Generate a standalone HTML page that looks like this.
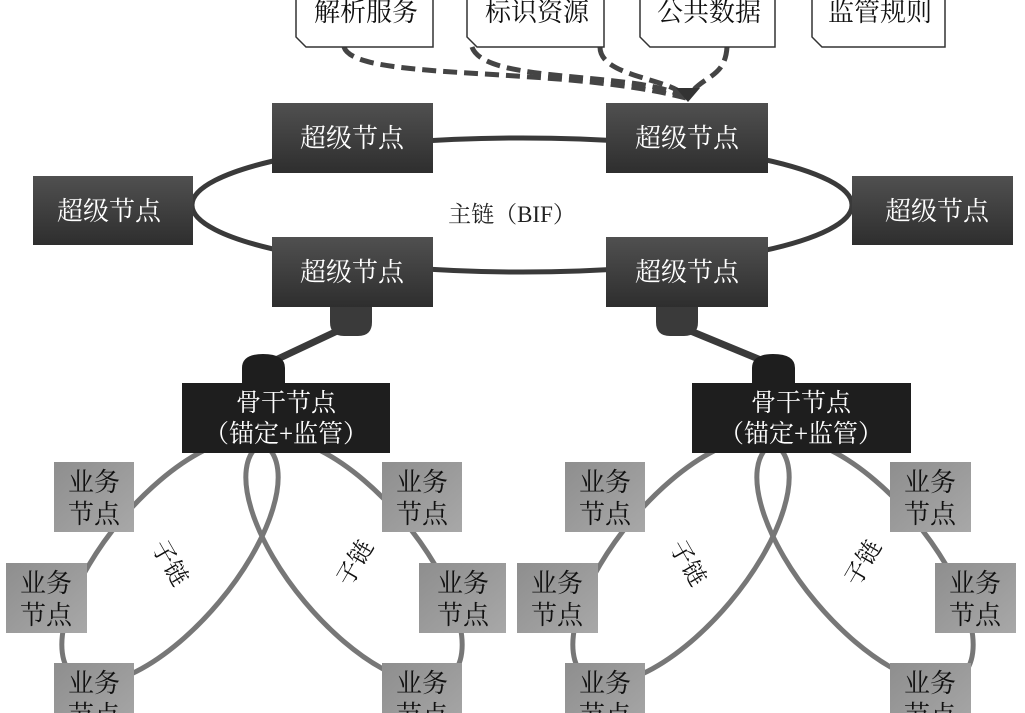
<!DOCTYPE html>
<html><head><meta charset="utf-8"><style>
body{margin:0;background:#fff;}
svg{display:block;}
text{font-family:"Liberation Serif","Noto Serif CJK SC",serif;}
</style></head><body>
<svg width="1025" height="713" viewBox="0 0 1025 713" xmlns="http://www.w3.org/2000/svg">
<defs>
<linearGradient id="dk" x1="0" y1="0" x2="0" y2="1"><stop offset="0" stop-color="#505050"/><stop offset="1" stop-color="#2e2e2e"/></linearGradient>
<linearGradient id="gr" x1="0" y1="0" x2="1" y2="1"><stop offset="0" stop-color="#8e8e8e"/><stop offset="1" stop-color="#a8a8a8"/></linearGradient>
</defs>
<!-- dashed arrows -->
<g fill="none" stroke="#444" stroke-width="5" stroke-dasharray="14,7">
<path d="M344,47 C355,82 560,65 686,98"/>
<path d="M472,47 C485,85 640,70 686,98"/>
<path d="M600,47 C600,78 675,78 686,98"/>
<path d="M727,47 C725,80 700,75 688,98"/>
</g>
<path d="M676,88 L688,102 L700,88 Z" fill="#333"/>
<!-- top boxes -->
<g fill="#fff" stroke="#333" stroke-width="1.5">
<path d="M296,-5 H433 V47 H306 L296,37 Z"/>
<path d="M467,-5 H604 V47 H477 L467,37 Z"/>
<path d="M640,-5 H775 V47 H650 L640,37 Z"/>
<path d="M812,-5 H945 V47 H822 L812,37 Z"/>
</g>
<g font-size="26" fill="#111" text-anchor="middle">
<text x="366" y="21">解析服务</text>
<text x="537" y="21">标识资源</text>
<text x="709" y="21">公共数据</text>
<text x="880" y="21">监管规则</text>
</g>
<!-- main ring -->
<ellipse cx="522" cy="205" rx="330" ry="67" fill="none" stroke="#3a3a3a" stroke-width="5"/>
<text x="512" y="222" font-size="23" text-anchor="middle" fill="#222">主链（BIF）</text>
<!-- connectors -->
<g stroke="#3a3a3a" stroke-width="7" fill="none"><line x1="350" y1="325" x2="265" y2="365"/><line x1="676" y1="325" x2="773" y2="365"/></g>
<g fill="#3a3a3a">
<path d="M330,300 H372 V322 Q372,336 358,336 H344 Q330,336 330,322 Z"/>
<path d="M656,300 H698 V322 Q698,336 684,336 H670 Q656,336 656,322 Z"/>
</g>
<g fill="#1e1e1e">
<path d="M242,385 V368 Q242,354 263,354 Q285,354 285,368 V385 Z"/>
<path d="M752,385 V368 Q752,354 773,354 Q795,354 795,368 V385 Z"/>
</g>
<!-- super nodes -->
<g fill="url(#dk)">
<rect x="272" y="103" width="161" height="70"/>
<rect x="606" y="103" width="162" height="70"/>
<rect x="33" y="176" width="160" height="69"/>
<rect x="852" y="176" width="161" height="69"/>
<rect x="272" y="237" width="161" height="70"/>
<rect x="606" y="237" width="162" height="70"/>
</g>
<g font-size="26" fill="#fff" text-anchor="middle">
<text x="352" y="147">超级节点</text>
<text x="687" y="147">超级节点</text>
<text x="109" y="220">超级节点</text>
<text x="937" y="220">超级节点</text>
<text x="352" y="281">超级节点</text>
<text x="687" y="281">超级节点</text>
</g>
<!-- sub chains -->
<g fill="none" stroke="#777" stroke-width="5">
<ellipse cx="170" cy="561" rx="150" ry="64" transform="rotate(-50 170 561)"/>
<ellipse cx="354" cy="561" rx="150" ry="64" transform="rotate(50 354 561)"/>
<ellipse cx="681" cy="561" rx="150" ry="64" transform="rotate(-50 681 561)"/>
<ellipse cx="865" cy="561" rx="150" ry="64" transform="rotate(50 865 561)"/>
</g>
<!-- backbone nodes -->
<rect x="182" y="383" width="208" height="70" fill="#1e1e1e"/>
<rect x="692" y="383" width="219" height="70" fill="#1e1e1e"/>
<g font-size="25" fill="#fff" text-anchor="middle">
<text x="286" y="411">骨干节点</text><text x="286" y="442">（锚定+监管）</text>
<text x="801" y="411">骨干节点</text><text x="801" y="442">（锚定+监管）</text>
</g>
<!-- business nodes -->
<g fill="url(#gr)">
<rect x="54" y="462" width="80" height="70"/><rect x="6" y="563" width="81" height="70"/><rect x="54" y="663" width="80" height="70"/>
<rect x="382" y="462" width="80" height="70"/><rect x="419" y="563" width="87" height="70"/><rect x="382" y="663" width="80" height="70"/>
<rect x="565" y="462" width="80" height="70"/><rect x="517" y="563" width="81" height="70"/><rect x="565" y="663" width="80" height="70"/>
<rect x="890" y="462" width="81" height="70"/><rect x="935" y="563" width="81" height="70"/><rect x="890" y="663" width="81" height="70"/>
</g>
<g font-size="26" fill="#111" text-anchor="middle">
<text x="94" y="491">业务</text><text x="94" y="523">节点</text>
<text x="46" y="592">业务</text><text x="46" y="624">节点</text>
<text x="94" y="692">业务</text><text x="94" y="724">节点</text>
<text x="422" y="491">业务</text><text x="422" y="523">节点</text>
<text x="463" y="592">业务</text><text x="463" y="624">节点</text>
<text x="422" y="692">业务</text><text x="422" y="724">节点</text>
<text x="605" y="491">业务</text><text x="605" y="523">节点</text>
<text x="557" y="592">业务</text><text x="557" y="624">节点</text>
<text x="605" y="692">业务</text><text x="605" y="724">节点</text>
<text x="930" y="491">业务</text><text x="930" y="523">节点</text>
<text x="975" y="592">业务</text><text x="975" y="624">节点</text>
<text x="930" y="692">业务</text><text x="930" y="724">节点</text>
</g>
<g font-size="24" fill="#111" text-anchor="middle">
<text transform="translate(163,567) rotate(60)">子链</text>
<text transform="translate(362,567) rotate(-60)">子链</text>
<text transform="translate(681,567) rotate(60)">子链</text>
<text transform="translate(870,567) rotate(-60)">子链</text>
</g>
</svg>
</body></html>
